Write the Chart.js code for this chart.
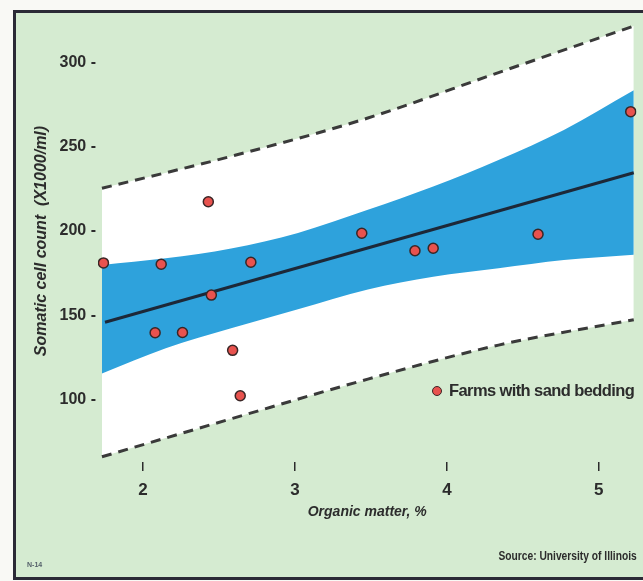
<!DOCTYPE html>
<html>
<head>
<meta charset="utf-8">
<title>Somatic cell count vs organic matter</title>
<script src="https://cdn.jsdelivr.net/npm/chart.js@4.4.1/dist/chart.umd.min.js"></script>
<style>
  html, body { margin: 0; padding: 0; background: #f9f9f5; }
  #wrap { position: relative; width: 643px; height: 581px; overflow: hidden; }
  #panel {
    position: absolute; left: 13px; top: 10px; width: 640px; height: 564px;
    background: #d5ebd1;
    border-top: 3px solid #2b2a36; border-left: 3px solid #2b2a36; border-bottom: 3px solid #2b2a36;
  }
  #chart { position: absolute; left: 0; top: 0; }
  .txt { position: absolute; color: #2c2c2c; font-family: 'Liberation Sans', Arial, sans-serif; font-weight: bold; white-space: nowrap; }
  #legend { left: 432px; top: 380px; font-size: 16.5px; line-height: 20px; letter-spacing: -0.6px; }
  #legend .dot { display: inline-block; width: 8px; height: 8px; border-radius: 50%; background: #e8524e; border: 1.5px solid #3a2626; margin-right: 7px; vertical-align: 0px; }
  #source { right: 6px; top: 549px; font-size: 12.5px; transform: scaleX(0.82); transform-origin: right center; }
  #tag { left: 27px; top: 561px; font-size: 7px; color: #55606a; }
</style>
</head>
<body>
<div id="wrap">
  <div id="panel"></div>
  <canvas id="chart" width="643" height="581"></canvas>
  <div class="txt" id="legend"><span class="dot"></span>Farms with sand bedding</div>
  <div class="txt" id="source">Source: University of Illinois</div>
  <div class="txt" id="tag">N-14</div>
</div>
<script>
// farms (organic matter %, somatic cell count x1000/ml)
const organicMatter = [1.74, 2.08, 2.12, 2.26, 2.43, 2.45, 2.59, 2.64, 2.71, 3.44, 3.79, 3.91, 4.60, 5.21];
const cellCount = [181, 139.5, 180.2, 139.7, 217.3, 161.9, 129.1, 102.1, 181.4, 198.6, 188.2, 189.7, 198, 270.8];

// regression line end points
const fitX = [1.75, 5.23];
const fitY = [145.8, 234.5];

// blue confidence band
const bandX = [1.73, 2.15, 2.58, 3.02, 3.48, 3.91, 4.34, 4.77, 5.23];
const bandUpper = [179.8, 183.7, 189.6, 198.8, 212.5, 226.3, 242.1, 259.9, 283.5];
const bandLower = [115.3, 130.3, 142.2, 153.5, 165.2, 172.8, 177.8, 182.7, 185.8];

// dashed prediction limits
const predX = [1.73, 2.59, 3.48, 4.34, 5.23];
const predUpper = [225.3, 244.5, 267.0, 294.0, 321.6];
const predLower = [65.9, 88.7, 112.0, 132.2, 147.3];

const xTicks = [2, 3, 4, 5];
const yTicks = [100, 150, 200, 250, 300];

const fontFamily = "'Liberation Sans', Arial, sans-serif";
const ink = '#2c2c2c';

const pairs = (xs, ys) => xs.map((x, i) => ({ x, y: ys[i] }));

new Chart(document.getElementById('chart'), {
    type: 'line',
    data: {
        datasets: [
            {
                data: pairs(predX, predUpper),
                borderColor: '#3a3a3a', borderWidth: 3, borderDash: [10, 7],
                pointRadius: 0, fill: false, cubicInterpolationMode: 'monotone', order: 4
            },
            {
                data: pairs(predX, predLower),
                borderColor: '#3a3a3a', borderWidth: 3, borderDash: [10, 7],
                pointRadius: 0, fill: 0, backgroundColor: '#ffffff', cubicInterpolationMode: 'monotone', order: 4
            },
            {
                data: pairs(bandX, bandUpper),
                borderWidth: 0, borderColor: 'rgba(0,0,0,0)',
                pointRadius: 0, fill: false, cubicInterpolationMode: 'monotone', order: 3
            },
            {
                data: pairs(bandX, bandLower),
                borderWidth: 0, borderColor: 'rgba(0,0,0,0)',
                pointRadius: 0, fill: 2, backgroundColor: '#2ea2dc', cubicInterpolationMode: 'monotone', order: 3
            },
            {
                data: pairs(fitX, fitY),
                borderColor: '#1d2838', borderWidth: 3,
                pointRadius: 0, fill: false, order: 2
            },
            {
                label: 'Farms with sand bedding',
                data: pairs(organicMatter, cellCount),
                showLine: false,
                pointRadius: 5, pointBorderWidth: 1.5,
                pointBackgroundColor: '#e8524e', pointBorderColor: '#3a2626',
                order: 1
            }
        ]
    },
    options: {
        responsive: false,
        animation: false,
        events: [],
        layout: { padding: { left: 28, top: 20, right: 0, bottom: 51 } },
        plugins: {
            legend: { display: false },
            tooltip: { enabled: false }
        },
        scales: {
            x: {
                type: 'linear',
                min: 1.704,
                max: 5.248,
                afterBuildTicks: scale => { scale.ticks = xTicks.map(value => ({ value })); },
                afterFit: scale => { scale.height = 68; },
                border: { display: false },
                grid: { drawOnChartArea: false, drawTicks: true, tickLength: 9, tickWidth: 1.5, lineWidth: 1.5, tickColor: ink },
                ticks: { padding: 9, color: ink, font: { family: fontFamily, size: 17, weight: 'bold' } },
                title: {
                    display: true, text: 'Organic matter, %', color: ink,
                    padding: { top: 0, bottom: 9 },
                    font: { family: fontFamily, size: 14, weight: 'bold', style: 'italic' }
                }
            },
            y: {
                min: 62.8,
                max: 325.2,
                afterBuildTicks: scale => { scale.ticks = yTicks.map(value => ({ value })); },
                afterFit: scale => { scale.width = 70; },
                border: { display: false },
                grid: { display: false, drawTicks: false },
                ticks: { padding: 2, color: ink, callback: v => v + ' -', font: { family: fontFamily, size: 16, weight: 'bold' } },
                title: {
                    display: true, text: 'Somatic cell count  (X1000/ml)', color: ink,
                    padding: { top: 4, bottom: 0 },
                    font: { family: fontFamily, size: 16, weight: 'bold', style: 'italic' }
                }
            }
        }
    }
});
</script>
</body>
</html>
